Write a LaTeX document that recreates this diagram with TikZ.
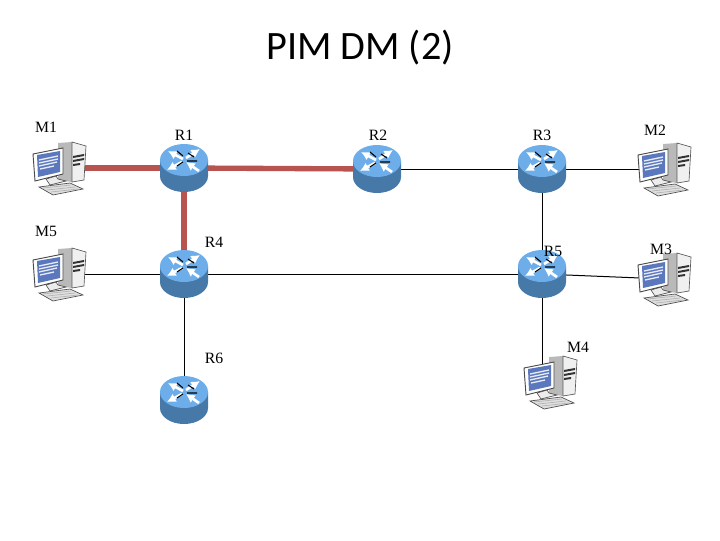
\documentclass[tikz,border=0pt]{standalone}
\usepackage{fontspec}
\setmainfont{Liberation Serif}
\newfontfamily\titlefont{Carlito}
\usetikzlibrary{arrows.meta}
\definecolor{rtop}{HTML}{6DAEEA}
\definecolor{rside}{HTML}{4679A8}
\definecolor{redl}{HTML}{B85450}
\definecolor{scr}{HTML}{5B78BE}
\tikzset{
  anchorpt/.style={inner sep=0pt,minimum size=0pt},
  plain/.style={draw=black,line width=0.75pt},
  mcast/.style={draw=redl,line width=4pt},
  lab/.style={font=\fontsize{11.8pt}{12pt}\selectfont,inner sep=0pt},
  rarrow/.style={white,line width=2pt,-{Latex[length=6.5pt,width=7pt]}},
  router/.pic={
    \fill[rside] (-24,-8) -- (-24,8) arc[start angle=180,end angle=0,x radius=24,y radius=16] -- (24,-8) -- cycle;
    \fill[rtop] (0,-8) ellipse[x radius=24,y radius=16];
    \draw[rarrow] (-1,-9) -- (-16,-17);
    \draw[rarrow] (2,-10) -- (16,-19);
    \draw[rarrow] (-2,-6) -- (-17,2);
    \draw[rarrow] (15,3) -- (2,-6);
    \draw[black,line width=0.8pt] (-7,-17) -- (-1,-12) (3,-7) -- (13,-7) (-7,-2) -- (-1,-6) (4,-15) -- (10,-11);
  },
  computer/.pic={
    \fill[gray!55] (-2,-25) -- (12,-26) -- (12,14) -- (-2,12) -- cycle;
    \filldraw[fill=gray!12,draw=gray!70!black,line width=0.5pt] (12,-26) -- (26,-22) -- (24,12) -- (12,14) -- cycle;
    \fill[black!80] (13,-12) -- (24,-14) -- (24,-12) -- (13,-10) -- cycle (13,-8) -- (24,-10) -- (24,-8) -- (13,-6) -- cycle (13,-4) -- (20,-5) -- (20,-3) -- (13,-2) -- cycle;
    \filldraw[fill=gray!15,draw=gray!60!black,line width=0.5pt] (-14,11) -- (-4,8) -- (-2,11) -- (6,13) -- (-10,17) -- cycle;
    \filldraw[fill=gray!25,draw=gray!60!black,line width=0.5pt] (-21,19) -- (10,15) -- (23,21) -- (-7,27) -- cycle;
    \draw[gray!60,line width=0.5pt] (-17,20) -- (11,17) (-13,22) -- (15,19) (-9,24) -- (18,21);
    \filldraw[fill=white,draw=black!70,line width=0.7pt] (-27,-14) -- (3,-20) -- (3,6) -- (-25,13) -- cycle;
    \fill[scr] (-23,-13) -- (0,-17) -- (0,4) -- (-22,9) -- cycle;
    \draw[white!85!scr,line width=1pt] (-21,-8) -- (-2,-12) (-21,-5) -- (-2,-9) (-21,-2) -- (-3,-6) (-20,1) -- (-6,-2);
  }
}
\begin{document}
\begin{tikzpicture}[x=0.75pt,y=-0.75pt]
\useasboundingbox (0,0) rectangle (720,540);
\fill[white] (0,0) rectangle (720,540);
\node[anchorpt] (r1) at (184,168) {};
\node[anchorpt] (r2) at (377,169) {};
\node[anchorpt] (r3) at (542,169) {};
\node[anchorpt] (r4) at (184,274) {};
\node[anchorpt] (r5) at (542,274) {};
\node[anchorpt] (r6) at (184,400) {};
\node[anchorpt] (m1) at (60,168) {};
\node[anchorpt] (m2) at (665,169) {};
\node[anchorpt] (m3) at (665,279) {};
\node[anchorpt] (m4) at (551,382) {};
\node[anchorpt] (m5) at (60,274) {};
% connectors
\draw[plain] (r2) -- (r3);
\draw[plain] (r3) -- (m2);
\draw[plain] (r3) -- (r5);
\draw[plain] (r4) -- (r5);
\draw[plain] (r4) -- (m5);
\draw[plain] (r4) -- (r6);
\draw[plain] (r5) -- (m3);
\draw[plain] (r5) -- (r5 |- m4);
\draw[mcast] (m1) -- (r1);
\draw[mcast] (r1) -- (r4);
\draw[mcast] (r1) -- (r2);
% icons
\foreach \n in {r1,r2,r3,r4,r5,r6} \pic at (\n) {router};
\foreach \n in {m1,m2,m3,m4,m5} \pic at (\n) {computer};
% labels
\node[inner sep=0pt,font=\titlefont\fontsize{30.2pt}{34pt}\selectfont] (title) at (360,48) {PIM DM (2)};
\node[lab] (lm1) at (46,127) {M1};
\node[lab] (lr1) at (184,135) {R1};
\node[lab] (lr2) at (378,135) {R2};
\node[lab] (lr3) at (542,135) {R3};
\node[lab] (lm2) at (655,130) {M2};
\node[lab] (lm5) at (46,231) {M5};
\node[lab] (lr4) at (214,242) {R4};
\node[lab] (lr5) at (553,251) {R5};
\node[lab] (lm3) at (661,249) {M3};
\node[lab] (lr6) at (214,358) {R6};
\node[lab] (lm4) at (578,347) {M4};
\end{tikzpicture}
\end{document}
